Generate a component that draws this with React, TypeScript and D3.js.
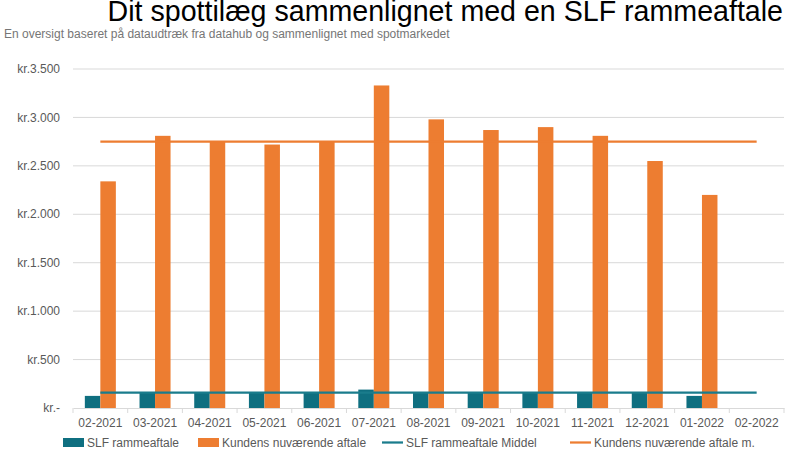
import { useRef, useEffect } from "react";
import * as d3 from "d3";

const categories = [
  "02-2021", "03-2021", "04-2021", "05-2021", "06-2021", "07-2021", "08-2021",
  "09-2021", "10-2021", "11-2021", "12-2021", "01-2022", "02-2022",
];
const slfValues: (number | null)[] = [125, 165, 165, 165, 165, 190, 165, 165, 165, 165, 165, 125, null];
const kundeValues: (number | null)[] = [2340, 2810, 2750, 2720, 2750, 3330, 2980, 2870, 2900, 2810, 2550, 2200, null];
const slfMiddel = [160, 160, 160, 160, 160, 160, 160, 160, 160, 160, 160, 160, 160];
const kundeMiddel = [2750, 2750, 2750, 2750, 2750, 2750, 2750, 2750, 2750, 2750, 2750, 2750, 2750];
const yTicks = [0, 500, 1000, 1500, 2000, 2500, 3000, 3500];
const yTickLabels = ["kr.-", "kr.500", "kr.1.000", "kr.1.500", "kr.2.000", "kr.2.500", "kr.3.000", "kr.3.500"];
const seriesNames = ["SLF rammeaftale", "Kundens nuværende aftale", "SLF rammeaftale Middel", "Kundens nuværende aftale m."];

const TEAL = "#0f6f80";
const TEAL_LINE = "#1a7c8c";
const ORANGE = "#ed7d31";
const GRID = "#d9d9d9";
const TEXT = "#595959";
const FONT = "'Liberation Sans', Arial, sans-serif";

export default function App() {
  const svgRef = useRef<SVGSVGElement>(null);
  const width = 800;
  const height = 450;

  useEffect(() => {
    if (!svgRef.current) return;
    const svg = d3.select(svgRef.current);
    svg.selectAll("*").remove();

    const left = 73;
    const right = 784;
    const top = 69;
    const bottom = 408;

    const x = d3.scaleBand<string>()
      .domain(categories)
      .range([left, right])
      .paddingInner(0.433)
      .paddingOuter(0.2165);
    const xs = d3.scaleBand<string>()
      .domain(["slf", "kunde"])
      .range([0, x.bandwidth()]);
    const y = d3.scaleLinear().domain([0, 3500]).range([bottom, top]);

    svg.append("rect").attr("width", width).attr("height", height).attr("fill", "#fff");

    // Title
    svg.append("text")
      .attr("x", 783)
      .attr("y", 20.5)
      .attr("text-anchor", "end")
      .attr("font-family", FONT)
      .attr("font-size", 28.6)
      .attr("fill", "#000")
      .text("Dit spottilæg sammenlignet med en SLF rammeaftale");

    svg.append("text")
      .attr("x", 4)
      .attr("y", 38)
      .attr("font-family", FONT)
      .attr("font-size", 12)
      .attr("fill", "#767676")
      .text("En oversigt baseret på dataudtræk fra datahub og sammenlignet med spotmarkedet");

    // Grid lines
    svg.append("g")
      .selectAll("line")
      .data(yTicks.filter((t) => t > 0))
      .join("line")
      .attr("x1", left)
      .attr("x2", right)
      .attr("y1", (d) => y(d))
      .attr("y2", (d) => y(d))
      .attr("stroke", GRID)
      .attr("stroke-width", 1);

    // Y labels
    svg.append("g")
      .selectAll("text")
      .data(yTicks)
      .join("text")
      .attr("x", 60)
      .attr("y", (d) => y(d))
      .attr("dy", "0.35em")
      .attr("text-anchor", "end")
      .attr("font-family", FONT)
      .attr("font-size", 12)
      .attr("fill", TEXT)
      .text((_, i) => yTickLabels[i]);

    // X axis
    const xAxis = svg.append("g")
      .attr("transform", `translate(0,${bottom})`)
      .call(d3.axisBottom(x).tickSize(0).tickPadding(10));
    xAxis.select(".domain").attr("stroke", GRID);
    xAxis.selectAll("text")
      .attr("font-family", FONT)
      .attr("font-size", 12)
      .attr("fill", TEXT);

    svg.append("g")
      .selectAll("line")
      .data(d3.range(categories.length + 1))
      .join("line")
      .attr("x1", (i) => left + i * x.step())
      .attr("x2", (i) => left + i * x.step())
      .attr("y1", bottom)
      .attr("y2", bottom + 5)
      .attr("stroke", GRID);

    // Bars
    const barData = [
      { key: "slf", values: slfValues, color: TEAL },
      { key: "kunde", values: kundeValues, color: ORANGE },
    ];
    barData.forEach((s) => {
      svg.append("g")
        .selectAll("rect")
        .data(categories.map((c, i) => ({ c, v: s.values[i] })).filter((d) => d.v != null))
        .join("rect")
        .attr("x", (d) => (x(d.c) ?? 0) + (xs(s.key) ?? 0))
        .attr("y", (d) => y(d.v as number))
        .attr("width", xs.bandwidth())
        .attr("height", (d) => y(0) - y(d.v as number))
        .attr("fill", s.color);
    });

    // Middel lines
    const line = d3.line<number>()
      .x((_, i) => (x(categories[i]) ?? 0) + x.bandwidth() / 2)
      .y((d) => y(d));
    svg.append("path")
      .attr("d", line(kundeMiddel))
      .attr("fill", "none")
      .attr("stroke", ORANGE)
      .attr("stroke-width", 2.25);
    svg.append("path")
      .attr("d", line(slfMiddel))
      .attr("fill", "none")
      .attr("stroke", TEAL_LINE)
      .attr("stroke-width", 2.25);

    // Legend
    const legend = svg.append("g").attr("font-family", FONT).attr("font-size", 12).attr("fill", TEXT);
    const items = [
      { x: 63, type: "rect", color: TEAL },
      { x: 198, type: "rect", color: ORANGE },
      { x: 382, type: "line", color: TEAL_LINE },
      { x: 570, type: "line", color: ORANGE },
    ];
    items.forEach((it, i) => {
      if (it.type === "rect") {
        legend.append("rect")
          .attr("x", it.x)
          .attr("y", 438)
          .attr("width", 21)
          .attr("height", 9)
          .attr("fill", it.color);
      } else {
        legend.append("line")
          .attr("x1", it.x)
          .attr("x2", it.x + 21)
          .attr("y1", 442.5)
          .attr("y2", 442.5)
          .attr("stroke", it.color)
          .attr("stroke-width", 2.25);
      }
      legend.append("text")
        .attr("x", it.x + 24)
        .attr("y", 447)
        .text(seriesNames[i]);
    });
  }, []);

  return (
    <svg
      ref={svgRef}
      width={width}
      height={height}
      style={{ position: "absolute", left: 0, top: 0 }}
      role="img"
      aria-label="Dit spottilæg sammenlignet med en SLF rammeaftale"
    />
  );
}
